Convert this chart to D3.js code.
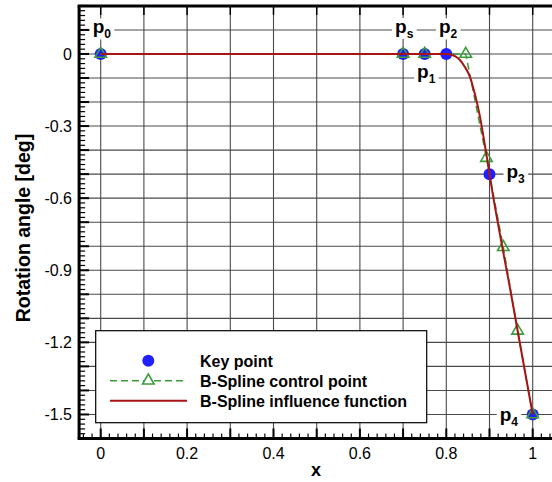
<!DOCTYPE html>
<html><head><meta charset="utf-8">
<script src="https://cdn.jsdelivr.net/npm/d3@7/dist/d3.min.js"></script>
<style>body{margin:0;background:#fff}svg{display:block}</style>
</head><body>
<script>
// ---- data ----
const keyX = [0, 0.7, 0.75, 0.8, 0.9, 1.0];
const keyY = [0, 0, 0, 0, -0.5, -1.5];
const keyNames = ["0", "s", "1", "2", "3", "4"];
const ctrlX = [0, 0.7, 0.75, 0.845, 0.893, 0.932, 0.965, 1.0];
const ctrlY = [0, 0, 0, 0, -0.433, -0.804, -1.152, -1.5];
const curveX = [0, 0.4, 0.8, 0.81, 0.82, 0.832, 0.843, 0.855, 0.866, 0.878, 0.886, 0.894, 0.9, 0.95, 1.0];
const curveY = [0, 0, 0, -0.002, -0.009, -0.026, -0.054, -0.096, -0.166, -0.262, -0.344, -0.43, -0.5, -1.0, -1.5];
const xTickLabels = [0, 0.2, 0.4, 0.6, 0.8, 1];
const yTickLabels = [0, -0.3, -0.6, -0.9, -1.2, -1.5];
const legendLabels = ["Key point", "B-Spline control point", "B-Spline influence function"];

const W = 552, H = 482;
const svg = d3.select("body").append("svg").attr("width", W).attr("height", H)
  .style("font-family", "Arial, 'Liberation Sans', sans-serif");

const x = d3.scaleLinear().domain([-0.05, 1.05]).range([79.1, 554.3]);
const y = d3.scaleLinear().domain([-1.6, 0.2]).range([438.5, 5.9]);

const gridColor = "#4a4a4a";
// grid
const gx = d3.range(0, 11).map(i => i / 10);
const gy = d3.range(-15, 2).map(i => i / 10);
svg.append("g").selectAll("line").data(gx).join("line")
  .attr("x1", d => x(d)).attr("x2", d => x(d)).attr("y1", y(0.2)).attr("y2", y(-1.6))
  .attr("stroke", gridColor).attr("stroke-width", 1.1);
svg.append("g").selectAll("line").data(gy).join("line")
  .attr("x1", x(-0.05)).attr("x2", x(1.05)).attr("y1", d => y(d)).attr("y2", d => y(d))
  .attr("stroke", gridColor).attr("stroke-width", 1.1);

// axes (ticks inward)
const xMajor = d3.range(0, 11).map(i => i / 10);
const xMinor = d3.range(-2, 53).map(i => i / 50).filter(v => Math.abs(v * 10 - Math.round(v * 10)) > 1e-6);
const yMajor = d3.range(-16, 3).map(i => i / 10);
const yMinor = d3.range(-80, 11).map(i => i / 50).filter(v => Math.abs(v * 10 - Math.round(v * 10)) > 1e-6);

const ax = svg.append("g");
const bY = y(-1.6), tY = y(0.2), lX = x(-0.05);
ax.selectAll(".xmaj").data(xMajor).join("line")
  .attr("x1", d => x(d)).attr("x2", d => x(d)).attr("y1", bY).attr("y2", bY - 10)
  .attr("stroke", "#000").attr("stroke-width", 2);
ax.selectAll(".xmin").data(xMinor).join("line")
  .attr("x1", d => x(d)).attr("x2", d => x(d)).attr("y1", bY).attr("y2", bY - 5)
  .attr("stroke", "#000").attr("stroke-width", 1.2);
ax.selectAll(".xtop").data(xMajor).join("line")
  .attr("x1", d => x(d)).attr("x2", d => x(d)).attr("y1", tY).attr("y2", tY + 9)
  .attr("stroke", "#000").attr("stroke-width", 1.5);
ax.selectAll(".ymaj").data(yMajor).join("line")
  .attr("x1", lX).attr("x2", lX + 10).attr("y1", d => y(d)).attr("y2", d => y(d))
  .attr("stroke", "#000").attr("stroke-width", 2);
ax.selectAll(".ymin").data(yMinor).join("line")
  .attr("x1", lX).attr("x2", lX + 6).attr("y1", d => y(d)).attr("y2", d => y(d))
  .attr("stroke", "#000").attr("stroke-width", 1.2);
// axis lines
ax.append("line").attr("x1", lX - 1.5).attr("x2", W).attr("y1", bY).attr("y2", bY).attr("stroke", "#000").attr("stroke-width", 3);
ax.append("line").attr("x1", lX - 1.5).attr("x2", W).attr("y1", tY).attr("y2", tY).attr("stroke", "#000").attr("stroke-width", 3);
ax.append("line").attr("x1", lX).attr("x2", lX).attr("y1", tY).attr("y2", bY).attr("stroke", "#000").attr("stroke-width", 3);

// tick labels
svg.append("g").selectAll("text").data(xTickLabels).join("text")
  .attr("x", d => x(d)).attr("y", 458.5).attr("text-anchor", "middle")
  .attr("font-size", 16).text(d => d3.format("")(d));
svg.append("g").selectAll("text").data(yTickLabels).join("text")
  .attr("x", 72).attr("y", d => y(d) + 5.8).attr("text-anchor", "end")
  .attr("font-size", 16).text(d => d === 0 ? "0" : d.toFixed(1));

// axis titles
svg.append("text").attr("x", 316).attr("y", 476).attr("text-anchor", "middle")
  .attr("font-size", 18).attr("font-weight", "bold").text("x");
svg.append("text").attr("transform", "translate(30,228) rotate(-90)").attr("text-anchor", "middle")
  .attr("font-size", 19.5).attr("font-weight", "bold").text("Rotation angle [deg]");

// marks
const blue = "#1f1fff", green = "#3c9c3c", red = "#a81414";
const keyPts = keyX.map((v, i) => [v, keyY[i]]);
const ctrlPts = ctrlX.map((v, i) => [v, ctrlY[i]]);
const curvePts = curveX.map((v, i) => [v, curveY[i]]);

svg.append("g").selectAll("circle").data(keyPts).join("circle")
  .attr("cx", d => x(d[0])).attr("cy", d => y(d[1])).attr("r", 6).attr("fill", blue);

svg.append("path").datum(ctrlPts)
  .attr("d", d3.line().x(d => x(d[0])).y(d => y(d[1])))
  .attr("fill", "none").attr("stroke", green).attr("stroke-width", 1.5).attr("stroke-dasharray", "7,4");
const tri = d3.symbol().type(d3.symbolTriangle).size(58);
svg.append("g").selectAll("path").data(ctrlPts).join("path")
  .attr("d", tri).attr("transform", d => `translate(${x(d[0])},${y(d[1])})`)
  .attr("fill", "none").attr("stroke", green).attr("stroke-width", 1.6);

svg.append("path").datum(curvePts)
  .attr("d", d3.line().x(d => x(d[0])).y(d => y(d[1])).curve(d3.curveMonotoneX))
  .attr("fill", "none").attr("stroke", red).attr("stroke-width", 2);

// point labels
const labOff = [[-8, -20.5], [-8, -21], [-7.6, 23.6], [-7.4, -20.5], [17, 3.6], [-33, 6.5]];
const lg = svg.append("g");
keyPts.forEach((p, i) => {
  const g = lg.append("g");
  const t = g.append("text").attr("x", x(p[0]) + labOff[i][0]).attr("y", y(p[1]) + labOff[i][1])
    .attr("font-weight", "bold").attr("font-size", 19);
  t.append("tspan").text("p");
  t.append("tspan").attr("font-size", 12).attr("dy", 5).text(keyNames[i]);
  const b = t.node().getBBox();
  g.insert("rect", "text").attr("x", b.x - 3).attr("y", b.y + 2).attr("width", b.width + 6).attr("height", b.height - 4).attr("fill", "#fff");
});

// legend
const leg = svg.append("g");
leg.append("rect").attr("x", 95.7).attr("y", 330.7).attr("width", 331).attr("height", 92)
  .attr("fill", "#fff").attr("stroke", "#000").attr("stroke-width", 1.2);
const rowY = [360.7, 380.7, 400.7];
leg.append("circle").attr("cx", 148.3).attr("cy", rowY[0]).attr("r", 6).attr("fill", blue);
leg.append("line").attr("x1", 110).attr("x2", 187).attr("y1", rowY[1]).attr("y2", rowY[1])
  .attr("stroke", green).attr("stroke-width", 1.5).attr("stroke-dasharray", "7,4");
leg.append("path").attr("d", tri).attr("transform", `translate(148.3,${rowY[1]})`)
  .attr("fill", "#fff").attr("stroke", green).attr("stroke-width", 1.6);
leg.append("line").attr("x1", 110).attr("x2", 187).attr("y1", rowY[2]).attr("y2", rowY[2])
  .attr("stroke", red).attr("stroke-width", 2);
leg.selectAll("text").data(legendLabels).join("text")
  .attr("x", 200).attr("y", (d, i) => rowY[i] + 5.8).attr("font-size", 16).attr("font-weight", "bold").text(d => d);
</script>
</body></html>
